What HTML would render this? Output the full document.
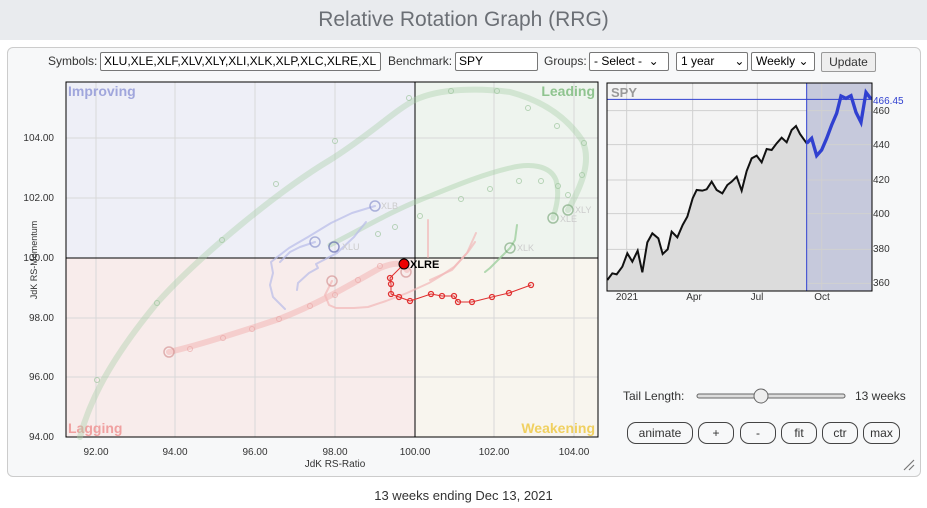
<!DOCTYPE html>
<html><head><meta charset="utf-8"><style>
body{margin:0;width:927px;height:508px;background:#fff;font-family:"Liberation Sans",sans-serif;overflow:hidden;position:relative}
.hdr{position:absolute;left:0;top:0;width:927px;height:40px;background:#e9ebee;text-align:center;font-size:21px;line-height:40px;color:#6b6f75}
.panel{position:absolute;left:7px;top:47px;width:912px;height:428px;border:1px solid #ccc;border-radius:6px;background:#f7f8f9}
.ctl{position:absolute;top:52px;font-size:12px;color:#333;height:19px;line-height:19px}
.inp{position:absolute;border:1px solid #777;background:#fff;font-size:12px;line-height:17px;height:17px;padding-left:3px;box-sizing:content-box;border-radius:2px}
.sel{position:absolute;border:1px solid #777;background:#fff;font-size:12px;height:17px;line-height:17px;padding-left:4px;border-radius:2px}
.btn{position:absolute;border:1px solid #444;border-radius:9px;font-size:12px;height:20px;line-height:20px;text-align:center;color:#333;background:#f7f8f9}
.foot{position:absolute;top:488px;left:0;width:927px;text-align:center;font-size:13px;color:#333}
</style></head><body>
<div class="hdr">Relative Rotation Graph (RRG)</div>
<div class="panel"></div>
<div class="ctl" style="left:48px">Symbols:</div>
<div class="inp" style="left:100px;top:52px;width:276px">XLU,XLE,XLF,XLV,XLY,XLI,XLK,XLP,XLC,XLRE,XL</div>
<div class="ctl" style="left:388px">Benchmark:</div>
<div class="inp" style="left:455px;top:52px;width:78px">SPY</div>
<div class="ctl" style="left:544px">Groups:</div>
<div class="sel" style="left:589px;top:52px;width:74px">- Select - &nbsp;⌄</div>
<div class="sel" style="left:676px;top:52px;width:66px">1 year &nbsp; &nbsp; &nbsp;⌄</div>
<div class="sel" style="left:751px;top:52px;width:58px">Weekly ⌄</div>
<div class="btn" style="left:821px;top:52px;width:53px;border-radius:2px;border-color:#999;background:#eee;height:18px;line-height:18px">Update</div>

<svg width="927" height="508" style="position:absolute;left:0;top:0" font-family="Liberation Sans, sans-serif">
<rect x="66" y="82" width="349" height="176" fill="#eeeff7"/>
<rect x="415" y="82" width="183" height="176" fill="#eef4ee"/>
<rect x="66" y="258" width="349" height="179" fill="#f8eceb"/>
<rect x="415" y="258" width="183" height="179" fill="#f8f5ee"/>
<g stroke="#d8d8d8" stroke-width="1">
<line x1="96" y1="82" x2="96" y2="437"/><line x1="175" y1="82" x2="175" y2="437"/><line x1="255" y1="82" x2="255" y2="437"/><line x1="335" y1="82" x2="335" y2="437"/><line x1="494" y1="82" x2="494" y2="437"/><line x1="574" y1="82" x2="574" y2="437"/>
<line x1="66" y1="138" x2="598" y2="138"/><line x1="66" y1="198" x2="598" y2="198"/><line x1="66" y1="318" x2="598" y2="318"/><line x1="66" y1="377" x2="598" y2="377"/>
</g>
<line x1="415" y1="82" x2="415" y2="437" stroke="#000"/><line x1="66" y1="258" x2="598" y2="258" stroke="#000"/>
<rect x="66" y="82" width="532" height="355" fill="none" stroke="#000"/>
<g font-weight="bold" font-size="14">
<text x="68" y="96" fill="#a0a6dc">Improving</text>
<text x="595" y="96" fill="#8fc48f" text-anchor="end">Leading</text>
<text x="68" y="433" fill="#f0a0a0">Lagging</text>
<text x="595" y="433" fill="#f0d060" text-anchor="end">Weakening</text>
</g>
<g font-size="10" fill="#333" text-anchor="middle">
<text x="96" y="455">92.00</text><text x="175" y="455">94.00</text><text x="255" y="455">96.00</text><text x="335" y="455">98.00</text><text x="415" y="455">100.00</text><text x="494" y="455">102.00</text><text x="574" y="455">104.00</text>
<text x="335" y="467">JdK RS-Ratio</text>
</g>
<g font-size="10" fill="#333" text-anchor="end">
<text x="54" y="141">104.00</text><text x="54" y="201">102.00</text><text x="54" y="261">100.00</text><text x="54" y="321">98.00</text><text x="54" y="380">96.00</text><text x="54" y="440">94.00</text>
</g>
<text transform="translate(37,260) rotate(-90)" font-size="9" fill="#333" text-anchor="middle">JdK RS-Momentum</text>

<g fill="none" stroke-linecap="round" stroke-linejoin="round">
<path d="M80,437 C90,400 110,360 157,303 C200,255 280,190 330,160 C370,135 395,110 415,100 C440,88 480,88 510,92 C540,100 565,115 582,140 C592,160 582,185 568,210" stroke="#a8d0a8" stroke-width="6" opacity="0.4"/>
<path d="M330,245 C360,230 390,212 420,200 C450,188 480,175 510,168 C530,163 550,165 556,180 C560,195 556,208 553,218" stroke="#a8d0a8" stroke-width="5" opacity="0.45"/>
<path d="M169,352 C200,345 240,332 279,319 C320,303 350,285 380,268 C395,262 402,262 407,270" stroke="#f2b0b0" stroke-width="6" opacity="0.5"/>
<path d="M375,206 L352,213 L331,223 L308,237 L289,248 L276,258 L271,262 L273,273 L270,285 L273,297 L279,303 L285,309" stroke="#b8bce8" stroke-width="2" opacity="0.7"/>
<path d="M366,222 L354,237 L337,253 L316,264 L318,268 L309,273 L298,283 L297,290" stroke="#b8bce8" stroke-width="2" opacity="0.7"/>
<path d="M315,242 L300,247 L290,252 L280,262" stroke="#b8bce8" stroke-width="2" opacity="0.7"/>
<path d="M475,242 L468,252 L454,267 L439,277 L429,283 L407,293 L386,301 L368,307 L354,308 L336,308 L329,305 L325,295 L332,281" stroke="#f2b8b8" stroke-width="2" opacity="0.7"/>
<path d="M428,220 L428,240 L428,257" stroke="#f2b8b8" stroke-width="2" opacity="0.7"/>
<path d="M476,233 L467,253 L452,270 L430,280" stroke="#f2b8b8" stroke-width="2" opacity="0.7"/>
<path d="M517,225 L515,240 L510,248 L500,258 L490,268 L485,272" stroke="#9fd09f" stroke-width="2" opacity="0.8"/>
<path d="M531,285 L509,293 L492,297 L472,302 L458,302 L454,296 L442,296 L431,294 L410,301 L399,297 L391,294 L391,284 L390,278 L404,264" stroke="#e03030" stroke-width="1"/>
</g>
<g fill="none" stroke="#9cc49c" stroke-width="1" opacity="0.7">
<circle cx="97" cy="380" r="2.5"/><circle cx="157" cy="303" r="2.5"/><circle cx="222" cy="240" r="2.5"/><circle cx="276" cy="184" r="2.5"/><circle cx="335" cy="141" r="2.5"/><circle cx="409" cy="98" r="2.5"/><circle cx="451" cy="91" r="2.5"/><circle cx="497" cy="91" r="2.5"/><circle cx="528" cy="108" r="2.5"/><circle cx="557" cy="126" r="2.5"/><circle cx="584" cy="143" r="2.5"/><circle cx="582" cy="175" r="2.5"/>
<circle cx="461" cy="199" r="2.5"/><circle cx="490" cy="189" r="2.5"/><circle cx="519" cy="181" r="2.5"/><circle cx="541" cy="181" r="2.5"/><circle cx="558" cy="186" r="2.5"/><circle cx="568" cy="195" r="2.5"/>
<circle cx="378" cy="234" r="2.5"/><circle cx="395" cy="227" r="2.5"/><circle cx="420" cy="216" r="2.5"/>
</g>
<g fill="none" stroke="#eaa8a8" stroke-width="1" opacity="0.7">
<circle cx="190" cy="349" r="2.5"/><circle cx="223" cy="338" r="2.5"/><circle cx="252" cy="329" r="2.5"/><circle cx="279" cy="319" r="2.5"/><circle cx="310" cy="306" r="2.5"/><circle cx="335" cy="295" r="2.5"/><circle cx="358" cy="280" r="2.5"/><circle cx="380" cy="266" r="2.5"/>
</g>
<g fill="none" stroke="#e03030" stroke-width="1.3">
<circle cx="531" cy="285" r="2.5"/><circle cx="509" cy="293" r="2.5"/><circle cx="492" cy="297" r="2.5"/><circle cx="472" cy="302" r="2.5"/><circle cx="458" cy="302" r="2.5"/><circle cx="454" cy="296" r="2.5"/><circle cx="442" cy="296" r="2.5"/><circle cx="431" cy="294" r="2.5"/><circle cx="410" cy="301" r="2.5"/><circle cx="399" cy="297" r="2.5"/><circle cx="391" cy="294" r="2.5"/><circle cx="391" cy="284" r="2.5"/><circle cx="390" cy="278" r="2.5"/>
</g>
<g fill="none" stroke-width="1.5" opacity="0.6">
<circle cx="375" cy="206" r="5" stroke="#8088c8"/><circle cx="315" cy="242" r="5" stroke="#8088c8"/><circle cx="334" cy="247" r="5" stroke="#5058a8"/>
<circle cx="553" cy="218" r="5" stroke="#70a070"/><circle cx="568" cy="210" r="5" stroke="#70a070"/><circle cx="510" cy="248" r="5" stroke="#70a070"/>
<circle cx="169" cy="352" r="5" stroke="#d08888"/><circle cx="332" cy="281" r="5" stroke="#d08888"/><circle cx="406" cy="272" r="5" stroke="#d08888"/>
</g>
<g font-size="9" fill="#ccc"><text x="381" y="209">XLB</text><text x="342" y="250">XLU</text><text x="560" y="222">XLE</text><text x="575" y="213">XLY</text><text x="517" y="251">XLK</text></g>
<circle cx="404" cy="264" r="5" fill="#e00" stroke="#000" stroke-width="1"/>
<text x="410" y="268" font-size="11" font-weight="bold" fill="#000">XLRE</text>

<rect x="607" y="83" width="265" height="208" fill="#f4f4f4"/>
<g transform="translate(600,40) scale(0.33333)">
<rect x="620" y="128" width="195" height="624" fill="#c6c9dc"/>
<g stroke="#d0d0d0" stroke-width="3">
<line x1="80" y1="128" x2="80" y2="752"/><line x1="278" y1="128" x2="278" y2="752"/><line x1="472" y1="128" x2="472" y2="752"/><line x1="665" y1="128" x2="665" y2="752"/>
<line x1="22" y1="212" x2="815" y2="212"/><line x1="22" y1="314" x2="815" y2="314"/><line x1="22" y1="420" x2="815" y2="420"/><line x1="22" y1="521" x2="815" y2="521"/><line x1="22" y1="628" x2="815" y2="628"/><line x1="22" y1="730" x2="815" y2="730"/>
</g>
<path d="M22,720 L37,700 L50,703 L67,680 L82,640 L97,665 L113,632 L127,697 L142,607 L157,580 L175,595 L188,642 L203,628 L215,575 L232,592 L248,555 L262,530 L278,475 L290,450 L307,452 L320,448 L335,425 L350,450 L367,460 L382,435 L395,425 L410,410 L425,452 L440,393 L455,355 L470,347 L485,367 L500,327 L515,330 L530,310 L545,293 L560,307 L575,270 L588,258 L600,282 L620,310 L620,752 L22,752Z" fill="#dcdcdc" stroke="none"/>
<path d="M22,720 L37,700 L50,703 L67,680 L82,640 L97,665 L113,632 L127,697 L142,607 L157,580 L175,595 L188,642 L203,628 L215,575 L232,592 L248,555 L262,530 L278,475 L290,450 L307,452 L320,448 L335,425 L350,450 L367,460 L382,435 L395,425 L410,410 L425,452 L440,393 L455,355 L470,347 L485,367 L500,327 L515,330 L530,310 L545,293 L560,307 L575,270 L588,258 L600,282 L620,310" fill="none" stroke="#111" stroke-width="6"/>
<path d="M620,310 L635,295 L650,347 L665,330 L680,295 L695,255 L710,220 L723,168 L738,175 L753,167 L768,217 L783,247 L798,157 L813,177" fill="none" stroke="#3040d0" stroke-width="10"/>
<line x1="620" y1="128" x2="620" y2="752" stroke="#3040d0" stroke-width="3"/>
<line x1="22" y1="178" x2="815" y2="178" stroke="#3040d0" stroke-width="3"/>
</g>
<rect x="607" y="83" width="265" height="208" fill="none" stroke="#000"/>
<text x="611" y="97" font-size="13" font-weight="bold" fill="#999">SPY</text>
<g font-size="10" fill="#333"><text x="873" y="114">460</text><text x="873" y="148">440</text><text x="873" y="183">420</text><text x="873" y="217">400</text><text x="873" y="252">380</text><text x="873" y="286">360</text></g>
<text x="873" y="104" font-size="10" fill="#3040d0">466.45</text>
<g font-size="10" fill="#333" text-anchor="middle"><text x="627" y="300">2021</text><text x="694" y="300">Apr</text><text x="757" y="300">Jul</text><text x="822" y="300">Oct</text></g>
<text x="623" y="400" font-size="12" fill="#333">Tail Length:</text>
<rect x="697" y="394" width="148" height="4" rx="2" fill="#ddd" stroke="#666" stroke-width="1"/>
<circle cx="761" cy="396" r="7" fill="#eee" stroke="#666"/>
<text x="855" y="400" font-size="12" fill="#333">13 weeks</text>
<path d="M904,470 L914,460 M909,470 L914,465" stroke="#777" stroke-width="1.2"/>
</svg>
<div class="btn" style="left:627px;top:422px;width:64px">animate</div>
<div class="btn" style="left:698px;top:422px;width:34px">+</div>
<div class="btn" style="left:740px;top:422px;width:34px">-</div>
<div class="btn" style="left:781px;top:422px;width:34px">fit</div>
<div class="btn" style="left:822px;top:422px;width:34px">ctr</div>
<div class="btn" style="left:863px;top:422px;width:35px">max</div>
<div class="foot">13 weeks ending Dec 13, 2021</div>
</body></html>
